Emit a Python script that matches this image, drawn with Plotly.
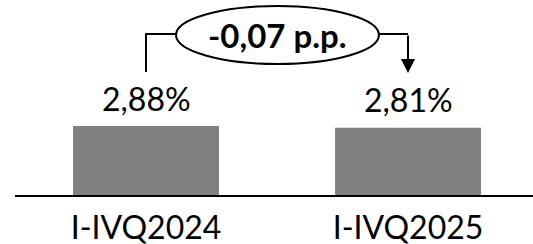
import plotly.graph_objects as go

categories = ["I-IVQ2024", "I-IVQ2025"]
values = [2.88, 2.81]
value_labels = ["2,88%", "2,81%"]
change_label = "-0,07 p.p."

FONT = "Lato"
BAR_COLOR = "#808080"

fig = go.Figure()
xs = list(range(len(categories)))
fig.add_trace(go.Bar(
    x=xs, y=values, width=0.557, marker=dict(color=BAR_COLOR, line=dict(width=0)),
    hoverinfo="skip",
))

# value labels above bars
for xi, v, lab in zip(xs, values, value_labels):
    fig.add_annotation(x=xi, y=v, text=lab, showarrow=False, xref="x", yref="y",
                       yanchor="middle", yshift=28,
                       font=dict(family=FONT, size=32, color="black"))

# connector (data coordinates)
y_conn = 6.72
y_start = 5.13
y_tip = 5.09
ell_x0, ell_x1 = 0.1145, 0.889
ell_y0, ell_y1 = 5.47, 7.89
fig.add_shape(type="path", xref="x", yref="y",
              path=f"M {xs[0]},{y_start} L {xs[0]},{y_conn} L {ell_x0},{y_conn}",
              line=dict(color="black", width=2))
fig.add_shape(type="path", xref="x", yref="y",
              path=f"M {ell_x1},{y_conn} L {xs[1]},{y_conn}",
              line=dict(color="black", width=2))
fig.add_annotation(x=xs[1], y=y_tip, ax=xs[1], ay=y_conn, xref="x", yref="y",
                   axref="x", ayref="y", text="", showarrow=True,
                   arrowhead=2, arrowsize=1.4, arrowwidth=2, arrowcolor="black", standoff=0)
fig.add_shape(type="circle", xref="x", yref="y", x0=ell_x0, x1=ell_x1, y0=ell_y0, y1=ell_y1,
              line=dict(color="black", width=2), fillcolor="white")
fig.add_annotation(x=(ell_x0 + ell_x1) / 2, y=(ell_y0 + ell_y1) / 2, text=f"<b>{change_label}</b>",
                   showarrow=False, xref="x", yref="y", yanchor="middle",
                   font=dict(family=FONT, size=33, color="black"))

fig.update_layout(
    width=533, height=244,
    margin=dict(l=15, r=0, t=0, b=49),
    paper_bgcolor="white", plot_bgcolor="white",
    showlegend=False,
    xaxis=dict(range=[-0.5, 1.477], tickvals=xs, ticktext=categories,
               showline=True, linecolor="black", linewidth=2, showgrid=False,
               zeroline=False, ticks="", ticklabelstandoff=4, automargin=False,
               tickfont=dict(family=FONT, size=32, color="black"), fixedrange=True),
    yaxis=dict(range=[0, 8.14], visible=False, showgrid=False, zeroline=False,
               fixedrange=True, automargin=False),
)

fig.write_html("out.html", config={"displayModeBar": False},
               post_script="document.body.style.margin='0';document.body.style.overflow='hidden';")
